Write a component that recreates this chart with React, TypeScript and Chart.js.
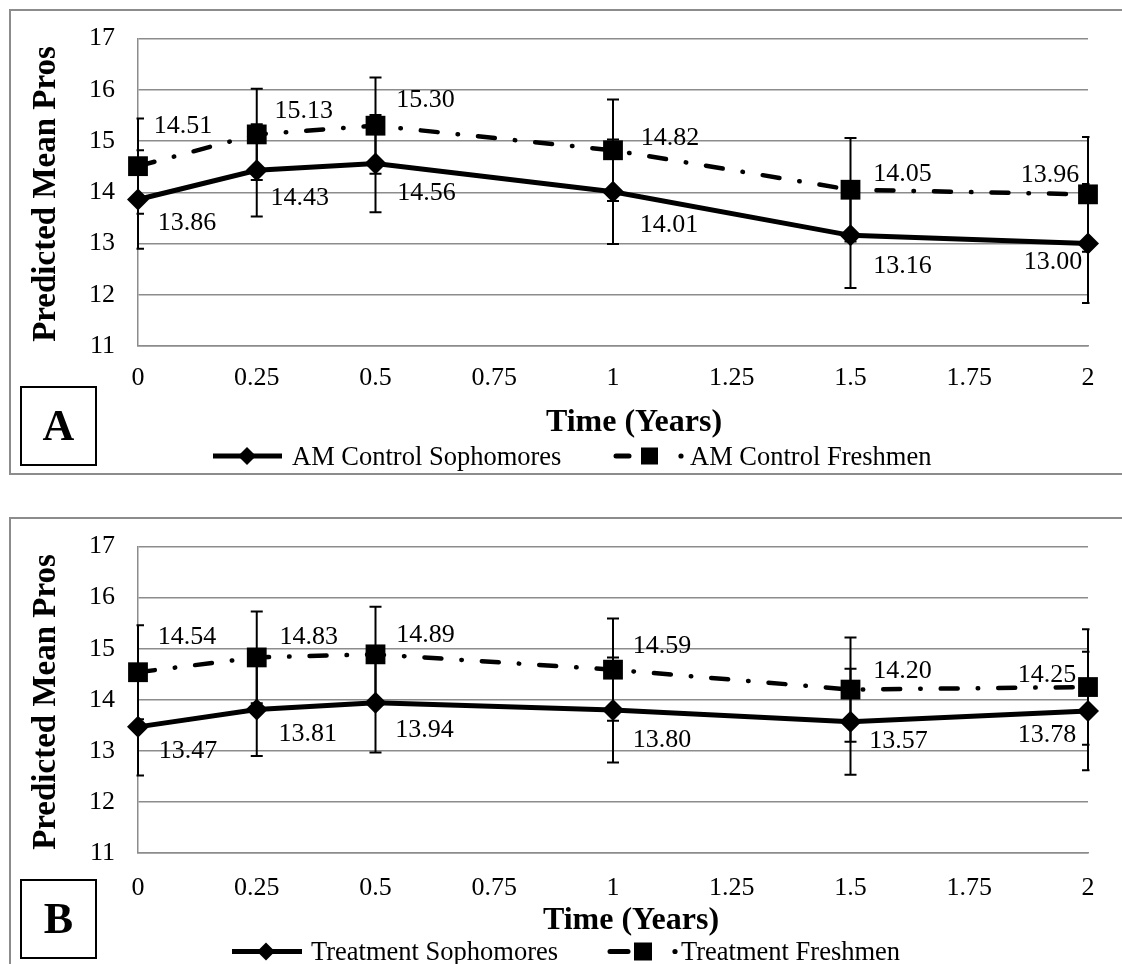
import React, { useEffect, useRef } from 'react';
import { Chart, registerables } from 'chart.js';

Chart.register(...registerables);

// ---------- data ----------
const timeYears = [0, 0.25, 0.5, 1, 1.5, 2];
const xTickLabels = ['0', '0.25', '0.5', '0.75', '1', '1.25', '1.5', '1.75', '2'];
const yTickLabels = ['11', '12', '13', '14', '15', '16', '17'];

const controlSophomores = [13.86, 14.43, 14.56, 14.01, 13.16, 13.0];
const controlFreshmen = [14.51, 15.13, 15.3, 14.82, 14.05, 13.96];
const controlSophomoresErr = [0.96, 0.9, 0.95, 1.02, 1.03, 1.16];
const controlFreshmenErr = [0.93, 0.89, 0.94, 0.99, 1.01, 1.12];

const treatmentSophomores = [13.47, 13.81, 13.94, 13.8, 13.57, 13.78];
const treatmentFreshmen = [14.54, 14.83, 14.89, 14.59, 14.2, 14.25];
const treatmentSophomoresErr = [0.95, 0.91, 0.97, 1.03, 1.04, 1.16];
const treatmentFreshmenErr = [0.92, 0.9, 0.93, 1.0, 1.02, 1.13];

// ---------- label placement (presentation only) ----------
type Offset = [number, number];
const aSophLabelOffsets: Offset[] = [[49, 24], [43, 28], [51, 30], [56, 33], [52, 31], [-35, 19]];
const aFreshLabelOffsets: Offset[] = [[45, -40], [47, -23], [50, -26], [57, -12], [52, -16], [-38, -19]];
const bSophLabelOffsets: Offset[] = [[50, 24], [51, 25], [49, 27], [49, 30], [48, 19], [-41, 24]];
const bFreshLabelOffsets: Offset[] = [[49, -35], [52, -20], [50, -19], [49, -23], [52, -18], [-41, -12]];

const FONT = '"Liberation Serif", "Times New Roman", serif';
const GRID = '#8c8c8c';
const FRESH_DASH = [17, 20, 0.5, 20];

interface Layout {
  canvasTop: number;
  canvasHeight: number;
  chartTop: number;
  chartBottom: number;
  xTickPad: number;
  titleX: number;
  titleBaseline: number;
  yTitleX: number;
  yTitleY: number;
  legendY: number;
  legendBaseline: number;
  sophLine: [number, number];
  sophMarker: number;
  sophText: number;
  freshDash: [number, number];
  freshSquare: number;
  freshSquareSize: number;
  freshDot: number;
  freshText: number;
  box: [number, number, number, number];
  letterBaseline: number;
}

interface PanelSpec {
  letter: string;
  sophName: string;
  freshName: string;
  soph: number[];
  fresh: number[];
  sophErr: number[];
  freshErr: number[];
  sophOffsets: Offset[];
  freshOffsets: Offset[];
  layout: Layout;
}

const panelA: PanelSpec = {
  letter: 'A',
  sophName: 'AM Control Sophomores',
  freshName: 'AM Control Freshmen',
  soph: controlSophomores,
  fresh: controlFreshmen,
  sophErr: controlSophomoresErr,
  freshErr: controlFreshmenErr,
  sophOffsets: aSophLabelOffsets,
  freshOffsets: aFreshLabelOffsets,
  layout: {
    canvasTop: 0,
    canvasHeight: 480,
    chartTop: 33,
    chartBottom: 346,
    xTickPad: 17,
    titleX: 634,
    titleBaseline: 431,
    yTitleX: 46,
    yTitleY: 194,
    legendY: 456,
    legendBaseline: 465,
    sophLine: [213, 282],
    sophMarker: 247,
    sophText: 292,
    freshDash: [614, 631],
    freshSquare: 649.5,
    freshSquareSize: 17,
    freshDot: 681,
    freshText: 690,
    box: [21, 387, 75, 78],
    letterBaseline: 440,
  },
};

const panelB: PanelSpec = {
  letter: 'B',
  sophName: 'Treatment Sophomores',
  freshName: 'Treatment Freshmen',
  soph: treatmentSophomores,
  fresh: treatmentFreshmen,
  sophErr: treatmentSophomoresErr,
  freshErr: treatmentFreshmenErr,
  sophOffsets: bSophLabelOffsets,
  freshOffsets: bFreshLabelOffsets,
  layout: {
    canvasTop: 508,
    canvasHeight: 456,
    chartTop: 34,
    chartBottom: 345,
    xTickPad: 20,
    titleX: 631,
    titleBaseline: 421,
    yTitleX: 46,
    yTitleY: 194,
    legendY: 443.5,
    legendBaseline: 452,
    sophLine: [232, 302],
    sophMarker: 266,
    sophText: 311,
    freshDash: [608, 630],
    freshSquare: 643,
    freshSquareSize: 18,
    freshDot: 675,
    freshText: 681,
    box: [21, 372, 75, 78],
    letterBaseline: 425,
  },
};

function makePlugin(spec: PanelSpec) {
  const L = spec.layout;
  return {
    id: 'panelDecor' + spec.letter,
    beforeDatasetsDraw(chart: any) {
      const { ctx, chartArea, scales } = chart;
      const xs = scales.x;
      const ys = scales.y;
      ctx.save();
      ctx.beginPath();
      ctx.rect(chartArea.left - 1.5, 0, chartArea.right - chartArea.left + 3, chart.height);
      ctx.clip();
      ctx.strokeStyle = '#000';
      ctx.lineWidth = 2;
      const series: [number[], number[]][] = [
        [spec.soph, spec.sophErr],
        [spec.fresh, spec.freshErr],
      ];
      series.forEach(([vals, errs]) => {
        timeYears.forEach((t, i) => {
          const px = xs.getPixelForValue(t);
          const yt = ys.getPixelForValue(vals[i] + errs[i]);
          const yb = ys.getPixelForValue(vals[i] - errs[i]);
          ctx.beginPath();
          ctx.moveTo(px, yt);
          ctx.lineTo(px, yb);
          ctx.moveTo(px - 6, yt);
          ctx.lineTo(px + 6, yt);
          ctx.moveTo(px - 6, yb);
          ctx.lineTo(px + 6, yb);
          ctx.stroke();
        });
      });
      ctx.restore();
    },
    afterDatasetsDraw(chart: any) {
      const { ctx, scales } = chart;
      ctx.save();
      ctx.font = `26px ${FONT}`;
      ctx.fillStyle = '#000';
      ctx.textAlign = 'center';
      ctx.textBaseline = 'middle';
      const draw = (vals: number[], offs: Offset[]) => {
        timeYears.forEach((t, i) => {
          const px = scales.x.getPixelForValue(t);
          const py = scales.y.getPixelForValue(vals[i]);
          ctx.fillText(vals[i].toFixed(2), px + offs[i][0], py + offs[i][1]);
        });
      };
      draw(spec.soph, spec.sophOffsets);
      draw(spec.fresh, spec.freshOffsets);
      ctx.restore();
    },
    afterDraw(chart: any) {
      const { ctx } = chart;
      ctx.save();
      ctx.fillStyle = '#000';
      // y-axis title
      ctx.save();
      ctx.translate(L.yTitleX, L.yTitleY);
      ctx.rotate(-Math.PI / 2);
      ctx.textAlign = 'center';
      ctx.textBaseline = 'middle';
      ctx.font = `bold 33px ${FONT}`;
      ctx.fillText('Predicted Mean Pros', 0, 0);
      ctx.restore();
      // x-axis title
      ctx.textAlign = 'center';
      ctx.textBaseline = 'alphabetic';
      ctx.font = `bold 32px ${FONT}`;
      ctx.fillText('Time (Years)', L.titleX, L.titleBaseline);
      // legend: sophomores
      ctx.strokeStyle = '#000';
      ctx.lineWidth = 5;
      ctx.lineCap = 'butt';
      ctx.beginPath();
      ctx.moveTo(L.sophLine[0], L.legendY);
      ctx.lineTo(L.sophLine[1], L.legendY);
      ctx.stroke();
      const d = 9;
      ctx.beginPath();
      ctx.moveTo(L.sophMarker, L.legendY - d);
      ctx.lineTo(L.sophMarker + d, L.legendY);
      ctx.lineTo(L.sophMarker, L.legendY + d);
      ctx.lineTo(L.sophMarker - d, L.legendY);
      ctx.closePath();
      ctx.fill();
      ctx.textAlign = 'left';
      ctx.font = `26.5px ${FONT}`;
      ctx.fillText(spec.sophName, L.sophText, L.legendBaseline);
      // legend: freshmen
      ctx.lineCap = 'round';
      ctx.beginPath();
      ctx.moveTo(L.freshDash[0] + 2, L.legendY);
      ctx.lineTo(L.freshDash[1] - 2, L.legendY);
      ctx.stroke();
      const s = L.freshSquareSize;
      ctx.fillRect(L.freshSquare - s / 2, L.legendY - s / 2, s, s);
      ctx.beginPath();
      ctx.arc(L.freshDot, L.legendY, 2.6, 0, Math.PI * 2);
      ctx.fill();
      ctx.fillText(spec.freshName, L.freshText, L.legendBaseline);
      // panel letter box
      const [bx, by, bw, bh] = L.box;
      ctx.fillStyle = '#fff';
      ctx.fillRect(bx, by, bw, bh);
      ctx.strokeStyle = '#000';
      ctx.lineWidth = 2;
      ctx.lineCap = 'butt';
      ctx.strokeRect(bx, by, bw, bh);
      ctx.fillStyle = '#000';
      ctx.textAlign = 'center';
      ctx.font = `bold 44px ${FONT}`;
      ctx.fillText(spec.letter, bx + bw / 2, L.letterBaseline);
      ctx.restore();
    },
  };
}

function Panel({ spec }: { spec: PanelSpec }) {
  const ref = useRef<HTMLCanvasElement>(null);
  useEffect(() => {
    const L = spec.layout;
    const canvas = ref.current!;
    const chart = new Chart(canvas, {
      type: 'line',
      data: {
        datasets: [
          {
            label: spec.sophName,
            data: timeYears.map((t, i) => ({ x: t, y: spec.soph[i] })),
            borderColor: '#000',
            backgroundColor: '#000',
            borderWidth: 5,
            pointStyle: 'rectRot',
            pointRadius: 11,
            pointBorderWidth: 0,
            pointBackgroundColor: '#000',
            tension: 0,
            clip: false,
          },
          {
            label: spec.freshName,
            data: timeYears.map((t, i) => ({ x: t, y: spec.fresh[i] })),
            borderColor: '#000',
            backgroundColor: '#000',
            borderWidth: 4.5,
            borderDash: FRESH_DASH,
            borderCapStyle: 'round',
            pointStyle: 'rect',
            pointRadius: 14,
            pointBorderWidth: 0,
            pointBackgroundColor: '#000',
            tension: 0,
            clip: false,
          },
        ] as any,
      },
      options: {
        responsive: false,
        animation: false,
        events: [],
        layout: { padding: { top: L.chartTop, right: 1122 - 1088, left: 0, bottom: 0 } },
        plugins: { legend: { display: false }, tooltip: { enabled: false }, title: { display: false } },
        scales: {
          x: {
            type: 'linear',
            min: 0,
            max: 2,
            ticks: {
              stepSize: 0.25,
              autoSkip: false,
              maxRotation: 0,
              padding: L.xTickPad,
              color: '#000',
              font: { family: FONT, size: 26 },
              callback: (_v: any, i: number) => xTickLabels[i],
            },
            grid: { display: false, drawTicks: false },
            border: { display: true, color: GRID, width: 1.5 },
            afterFit: (s: any) => {
              s.height = L.canvasHeight - L.chartBottom;
            },
          },
          y: {
            min: 11,
            max: 17,
            ticks: {
              stepSize: 1,
              padding: 23,
              color: '#000',
              font: { family: FONT, size: 26 },
              callback: (v: any) => yTickLabels[Math.round(Number(v)) - Number(yTickLabels[0])],
            },
            grid: { color: GRID, lineWidth: 1.5, drawTicks: false },
            border: { display: true, color: GRID, width: 1.5 },
            afterFit: (s: any) => {
              s.width = 138;
            },
          },
        },
      } as any,
      plugins: [makePlugin(spec)],
    });
    return () => chart.destroy();
  }, [spec]);
  return (
    <canvas
      ref={ref}
      width={1122}
      height={spec.layout.canvasHeight}
      style={{ position: 'absolute', left: 0, top: spec.layout.canvasTop }}
    />
  );
}

export default function App() {
  return (
    <div
      style={{
        position: 'fixed',
        left: 0,
        top: 0,
        width: 1122,
        height: 964,
        overflow: 'hidden',
        background: '#fff',
      }}
    >
      <div
        style={{
          position: 'absolute',
          left: 9,
          top: 9,
          width: 1200,
          height: 466,
          border: '2px solid #8c8c8c',
          boxSizing: 'border-box',
        }}
      />
      <div
        style={{
          position: 'absolute',
          left: 9,
          top: 517,
          width: 1200,
          height: 600,
          border: '2px solid #8c8c8c',
          boxSizing: 'border-box',
        }}
      />
      <Panel spec={panelA} />
      <Panel spec={panelB} />
    </div>
  );
}
